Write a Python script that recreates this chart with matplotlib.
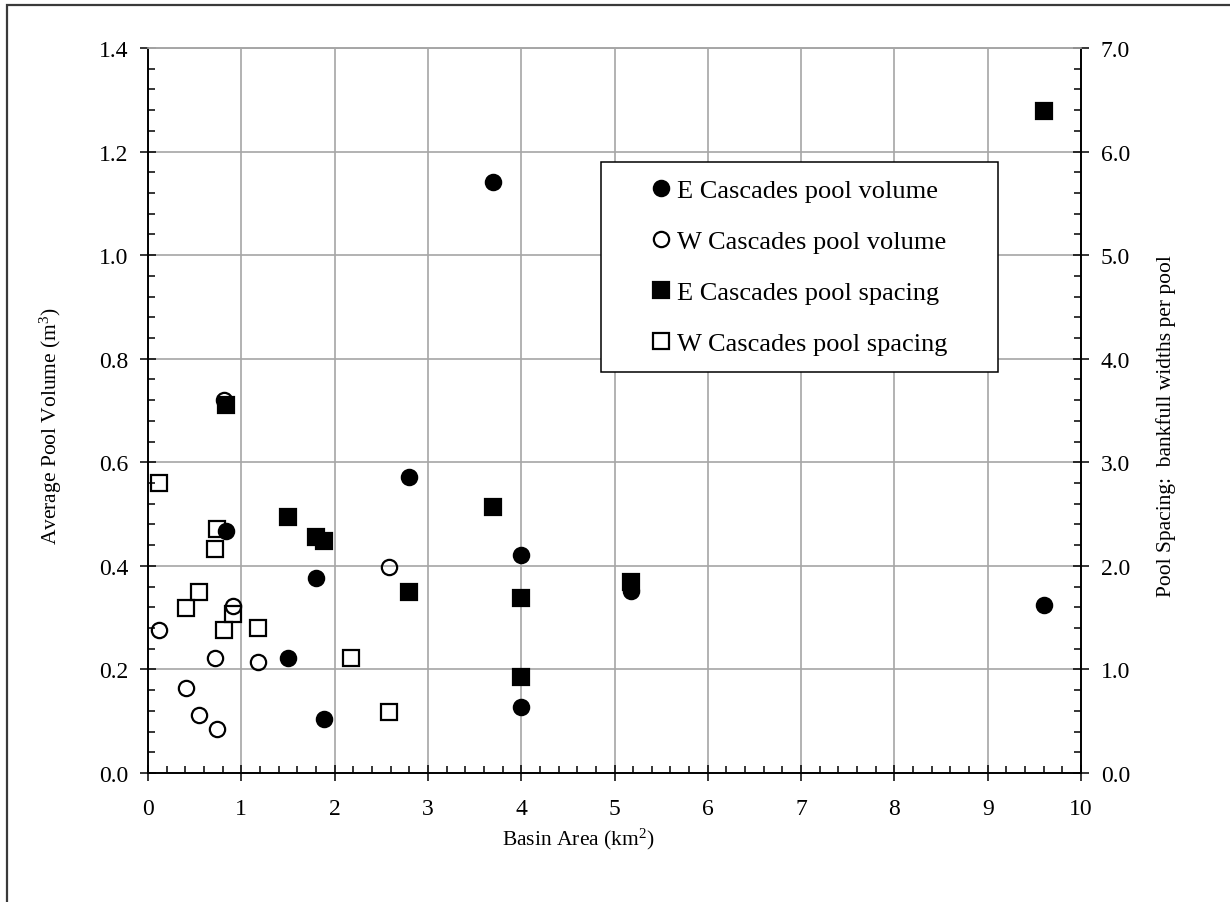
import matplotlib.pyplot as plt
from matplotlib.patches import Rectangle
from matplotlib.ticker import MultipleLocator, FormatStrFormatter

plt.rcParams['font.family'] = ['Liberation Serif', 'DejaVu Serif']
plt.rcParams['mathtext.fontset'] = 'custom'
plt.rcParams['mathtext.rm'] = 'Liberation Serif'
plt.rcParams['mathtext.it'] = 'Liberation Serif:italic'

# East Cascades sites: basin area (km2), pool volume (m3), pool spacing (bankfull widths)
e_area = [0.84, 1.50, 1.80, 1.89, 2.80, 3.70, 4.00, 4.00, 5.18, 9.60]
e_volume = [0.467, 0.222, 0.376, 0.104, 0.571, 1.141, 0.421, 0.127, 0.352, 0.325]
e_spacing = [3.55, 2.47, 2.275, 2.236, 1.744, 2.565, 1.686, 0.924, 1.84, 6.39]

# West Cascades sites
w_vol_area = [0.12, 0.41, 0.546, 0.717, 0.735, 0.82, 0.907, 1.18, 2.58]
w_volume = [0.276, 0.165, 0.111, 0.222, 0.085, 0.720, 0.323, 0.215, 0.398]
w_sp_area = [0.12, 0.41, 0.546, 0.717, 0.735, 0.82, 0.907, 1.18, 2.18, 2.58]
w_spacing = [2.80, 1.59, 1.744, 2.16, 2.355, 1.38, 1.535, 1.40, 1.11, 0.59]

labels = ['E Cascades pool volume', 'W Cascades pool volume',
          'E Cascades pool spacing', 'W Cascades pool spacing']

grid_grey = '#a6a6a6'
ms = 11
mew = 1.6

fig = plt.figure(figsize=(12.3, 9.03), dpi=100)
ax = fig.add_axes([0.1203, 0.1429, 0.7586, 0.8028])
ax2 = ax.twinx()

h1, = ax.plot(e_area, e_volume, 'o', ms=ms, color='black', mew=mew, label=labels[0])
h2, = ax.plot(w_vol_area, w_volume, 'o', ms=ms, mfc='none', mec='black', mew=mew, label=labels[1])
h3, = ax2.plot(e_area, e_spacing, 's', ms=ms, color='black', mew=mew, label=labels[2])
h4, = ax2.plot(w_sp_area, w_spacing, 's', ms=ms, mfc='none', mec='black', mew=mew, label=labels[3])

ax.set_xlim(0, 10)
ax.set_ylim(0, 1.4)
ax2.set_ylim(0, 7)

ax.xaxis.set_major_locator(MultipleLocator(1))
ax.xaxis.set_minor_locator(MultipleLocator(0.2))
ax.yaxis.set_major_locator(MultipleLocator(0.2))
ax.yaxis.set_minor_locator(MultipleLocator(0.04))
ax.yaxis.set_major_formatter(FormatStrFormatter('%.1f'))
ax2.yaxis.set_major_locator(MultipleLocator(1))
ax2.yaxis.set_minor_locator(MultipleLocator(0.2))
ax2.yaxis.set_major_formatter(FormatStrFormatter('%.1f'))

ax.set_axisbelow(True)
ax.grid(True, which='major', color=grid_grey, lw=1.2)

for a in (ax, ax2):
    for side in ('left', 'right', 'bottom'):
        a.spines[side].set_linewidth(1.2)
        a.spines[side].set_color('black')
    a.spines['top'].set_color(grid_grey)
    a.spines['top'].set_linewidth(1.2)
    a.tick_params(which='major', direction='inout', length=11.5, width=1.1,
                  labelsize=17, pad=8.5, top=False)
    a.tick_params(which='minor', direction='in', length=5, width=1.1, top=False)
ax.tick_params(axis='y', which='both', right=False)
ax.tick_params(axis='x', which='major', pad=12.5)

ax.set_xlabel('Basin Area (km$^2$)', fontsize=15.5, va='center')
ax.xaxis.set_label_coords(0.4609, -0.090)
ax.set_ylabel('Average Pool Volume (m$^3$)', fontsize=15.5, va='center')
ax.yaxis.set_label_coords(-0.1040, 0.48)
ax2.set_ylabel('Pool Spacing:  bankfull widths per pool', fontsize=15.5,
               rotation=90, va='center')
ax2.yaxis.set_label_coords(1.091, 0.48)

leg = ax2.legend([h1, h2, h3, h4], labels, loc='upper left',
                 bbox_to_anchor=(0.4855, 0.5517, 0.4255, 0.2911), mode='expand',
                 fontsize=19, frameon=True, fancybox=False, edgecolor='black',
                 framealpha=1, borderpad=0.64, labelspacing=1.04,
                 handlelength=3.26, handletextpad=-1.02, numpoints=1,
                 borderaxespad=0)
leg.get_frame().set_linewidth(1.1)

# outer frame around the whole chart area
fig.patches.append(Rectangle((7 / 1230, -0.05), 1.1, 1.05 - 6 / 903,
                             transform=fig.transFigure, fill=False,
                             ec='#3a3a3a', lw=1.6))

fig.savefig('out.png', dpi=100)
